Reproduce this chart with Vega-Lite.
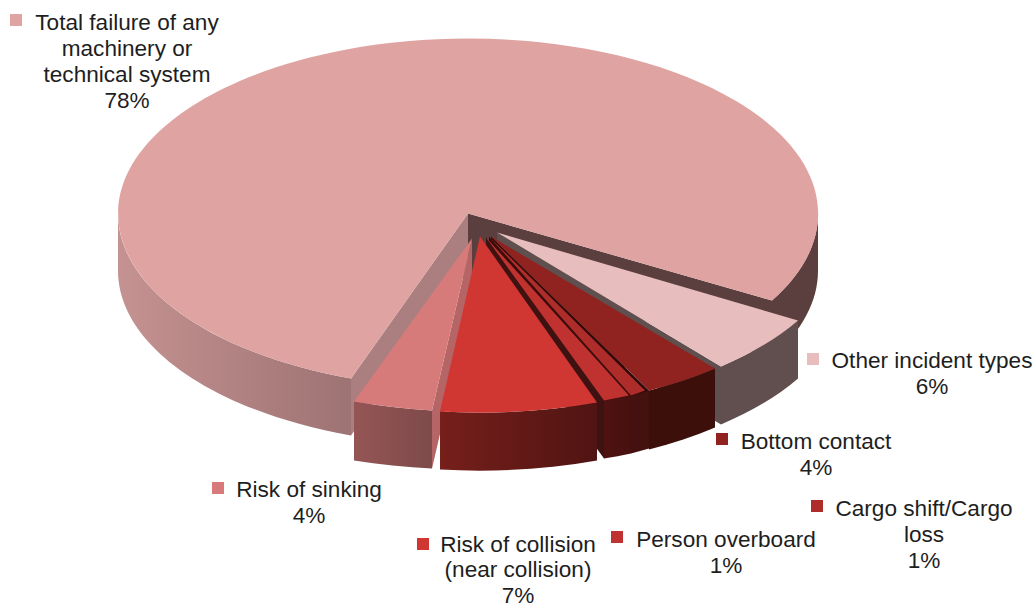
{"$schema":"https://vega.github.io/schema/vega-lite/v6.json","width":1035,"height":605,"padding":0,"autosize":{"type":"fit","contains":"padding"},"background":"white","view":{"stroke":null},
"config":{"text":{"font":"Liberation Sans"}},
"data":{"values":[
{"name":"Total failure of any machinery or technical system","share":78,"label":"Total failure of any\nmachinery or\ntechnical system\n78%"},
{"name":"Other incident types","share":6,"label":"Other incident types\n6%"},
{"name":"Bottom contact","share":4,"label":"Bottom contact\n4%"},
{"name":"Cargo shift/Cargo loss","share":1,"label":"Cargo shift/Cargo\nloss\n1%"},
{"name":"Person overboard","share":1,"label":"Person overboard\n1%"},
{"name":"Risk of collision (near collision)","share":7,"label":"Risk of collision\n(near collision)\n7%"},
{"name":"Risk of sinking","share":4,"label":"Risk of sinking\n4%"}
]},
"resolve":{"scale":{"shape":"independent","fill":"independent"}},
"layer":[
{"transform":[{"filter":"datum.name === 'Total failure of any machinery or technical system'"}],"mark":{"type":"point","filled":true,"opacity":1,"strokeWidth":0,"size":4,"shape":"M-49.5,-87.5 L-166.5,77.5 L-166.5,134.5 L-49.5,-30.5 Z","fill":"#ab7f7f"}},
{"transform":[{"filter":"datum.name === 'Total failure of any machinery or technical system'"}],"mark":{"type":"point","filled":true,"opacity":1,"strokeWidth":0,"size":4,"shape":"M-49.5,-87.5 L254.5,-0.5 L254.5,56.5 L-49.5,-30.5 Z","fill":"#5b3f3e"}},
{"transform":[{"filter":"datum.name === 'Total failure of any machinery or technical system'"}],"mark":{"type":"point","filled":true,"opacity":1,"strokeWidth":0,"size":4,"shape":"M254.5,-0.5 A350 175 0 0 0 300.5,-87.5 L300.5,-30.5 A350 175 0 0 1 254.5,56.5 Z","fill":"#5b3f3e"}},
{"transform":[{"filter":"datum.name === 'Total failure of any machinery or technical system'"}],"mark":{"type":"point","filled":true,"opacity":1,"strokeWidth":0,"size":4,"shape":"M-399.5,-87.5 A350 175 0 0 0 -166.5,77.5 L-166.5,134.5 A350 175 0 0 1 -399.5,-30.5 Z","fill":{"gradient":"linear","x1":0,"x2":1,"y1":0,"y2":0,"stops":[{"offset":0,"color":"#c49291"},{"offset":1,"color":"#9e7373"}]}}},
{"mark":{"type":"point","filled":true,"opacity":1,"strokeWidth":0},
"transform":[{"filter":"indexof(['Other incident types','Bottom contact','Cargo shift/Cargo loss','Person overboard','Risk of sinking'], datum.name) >= 0"}],
"encoding":{"size":{"value":4},
"shape":{"field":"name","type":"nominal","legend":null,"scale":{"domain":["Other incident types","Bottom contact","Cargo shift/Cargo loss","Person overboard","Risk of sinking"],"range":[
"M-20.5,-68.5 L203.5,65.5 L203.5,123.5 L-20.5,-10.5 Z",
"M-26.5,-64.5 L131.5,89.5 L131.5,147.5 L-26.5,-6.5 Z",
"M-28.5,-64.5 L113.5,94.5 L113.5,152.5 L-28.5,-6.5 Z",
"M-31.5,-63.5 L86.5,99.5 L86.5,157.5 L-31.5,-5.5 Z",
"M-45.5,-62.5 L-85.5,109.5 L-85.5,167.5 L-45.5,-4.5 Z"]}},
"fill":{"field":"name","type":"nominal","legend":null,"scale":{"domain":["Other incident types","Bottom contact","Cargo shift/Cargo loss","Person overboard","Risk of sinking"],"range":["#5f4f4f","#2f0a08","#3a0d0c","#3f1212","#b56565"]}}}},
{"mark":{"type":"point","filled":true,"opacity":1,"strokeWidth":0},
"transform":[{"filter":"indexof(['Other incident types','Bottom contact','Cargo shift/Cargo loss'], datum.name) >= 0"}],
"encoding":{"size":{"value":4},
"shape":{"field":"name","type":"nominal","legend":null,"scale":{"domain":["Other incident types","Bottom contact","Cargo shift/Cargo loss"],"range":[
"M203.5,65.5 A350 175 0 0 0 280.5,19.5 L280.5,77.5 A350 175 0 0 1 203.5,123.5 Z",
"M131.5,89.5 A350 175 0 0 0 197.5,67.5 L197.5,126.5 A350 175 0 0 1 131.5,148.5 Z",
"M113.5,94.5 A350 175 0 0 0 131.5,89.5 L131.5,147.5 A350 175 0 0 1 113.5,152.5 Z"]}},
"fill":{"field":"name","type":"nominal","legend":null,"scale":{"domain":["Other incident types","Bottom contact","Cargo shift/Cargo loss"],"range":["#614f4f","#3d0f0a","#451110"]}}}},
{"transform":[{"filter":"datum.name === 'Person overboard'"}],"mark":{"type":"point","filled":true,"opacity":1,"strokeWidth":0,"size":4,"shape":"M86.5,99.5 A350 175 0 0 0 113.5,94.5 L113.5,152.5 A350 175 0 0 1 86.5,157.5 Z","fill":{"gradient":"linear","x1":0,"x2":1,"y1":0,"y2":0,"stops":[{"offset":0,"color":"#4f1210"},{"offset":1,"color":"#471110"}]}}},
{"transform":[{"filter":"datum.name === 'Risk of collision (near collision)'"}],"mark":{"type":"point","filled":true,"opacity":1,"strokeWidth":0,"size":4,"shape":"M-77.5,110.5 A350 175 0 0 0 79.5,101.5 L79.5,159.5 A350 175 0 0 1 -77.5,168.5 Z","fill":{"gradient":"linear","x1":0,"x2":1,"y1":0,"y2":0,"stops":[{"offset":0,"color":"#761f1b"},{"offset":1,"color":"#501412"}]}}},
{"transform":[{"filter":"datum.name === 'Risk of sinking'"}],"mark":{"type":"point","filled":true,"opacity":1,"strokeWidth":0,"size":4,"shape":"M-163.5,100.5 A350 175 0 0 0 -85.5,109.5 L-85.5,167.5 A350 175 0 0 1 -163.5,159.5 Z","fill":{"gradient":"linear","x1":0,"x2":1,"y1":0,"y2":0,"stops":[{"offset":0,"color":"#955555"},{"offset":1,"color":"#7e4a4a"}]}}},
{"mark":{"type":"point","filled":true,"opacity":1,"strokeWidth":0},
"encoding":{"size":{"value":4},
"shape":{"field":"name","type":"nominal","legend":null,"scale":{"domain":["Total failure of any machinery or technical system","Other incident types","Bottom contact","Cargo shift/Cargo loss","Person overboard","Risk of collision (near collision)","Risk of sinking"],"range":[
"M-49.5,-87.5 L254.5,-0.5 A350 175 0 1 0 -166.5,77.5 Z",
"M-20.5,-68.5 L203.5,65.5 A350 175 0 0 0 280.5,19.5 Z",
"M-26.5,-64.5 L131.5,89.5 A350 175 0 0 0 197.5,67.5 Z",
"M-28.5,-64.5 L113.5,94.5 A350 175 0 0 0 127.5,89.5 Z",
"M-31.5,-63.5 L86.5,99.5 A350 175 0 0 0 111.5,94.5 Z",
"M-37.5,-64.5 L-77.5,110.5 A350 175 0 0 0 79.5,101.5 Z",
"M-45.5,-62.5 L-163.5,100.5 A350 175 0 0 0 -85.5,109.5 Z"]}},
"fill":{"field":"name","type":"nominal","legend":null,"scale":{"domain":["Total failure of any machinery or technical system","Other incident types","Bottom contact","Cargo shift/Cargo loss","Person overboard","Risk of collision (near collision)","Risk of sinking"],"range":["#dfa3a2","#e8bdbd","#90231f","#ae2c29","#c03230","#d03632","#d67b79"]}}}},
{"transform":[{"filter":"datum.name === 'Total failure of any machinery or technical system'"}],
"encoding":{"x":{"datum":16,"type":"quantitative","axis":null,"scale":{"domain":[0,1035],"range":[0,1035]}},"y":{"datum":20,"type":"quantitative","axis":null,"scale":{"domain":[0,605],"range":[0,605]}}},
"layer":[{"mark":{"type":"point","shape":"square","size":144,"filled":true,"opacity":1,"strokeWidth":0,"color":"#dfa3a2"}},
{"mark":{"type":"text","fontSize":22.6,"font":"Liberation Sans","color":"#1e1e1e","lineBreak":"\n","lineHeight":25.8,"baseline":"top","align":"center","dx":111,"dy":-7.8},"encoding":{"text":{"field":"label"}}}]},
{"transform":[{"filter":"datum.name === 'Other incident types'"}],
"encoding":{"x":{"datum":813,"type":"quantitative","axis":null,"scale":{"domain":[0,1035],"range":[0,1035]}},"y":{"datum":359,"type":"quantitative","axis":null,"scale":{"domain":[0,605],"range":[0,605]}}},
"layer":[{"mark":{"type":"point","shape":"square","size":144,"filled":true,"opacity":1,"strokeWidth":0,"color":"#e8bdbd"}},
{"mark":{"type":"text","fontSize":22.6,"font":"Liberation Sans","color":"#1e1e1e","lineBreak":"\n","lineHeight":25.8,"baseline":"top","align":"center","dx":119,"dy":-8.8},"encoding":{"text":{"field":"label"}}}]},
{"transform":[{"filter":"datum.name === 'Bottom contact'"}],
"encoding":{"x":{"datum":722,"type":"quantitative","axis":null,"scale":{"domain":[0,1035],"range":[0,1035]}},"y":{"datum":439,"type":"quantitative","axis":null,"scale":{"domain":[0,605],"range":[0,605]}}},
"layer":[{"mark":{"type":"point","shape":"square","size":144,"filled":true,"opacity":1,"strokeWidth":0,"color":"#90231f"}},
{"mark":{"type":"text","fontSize":22.6,"font":"Liberation Sans","color":"#1e1e1e","lineBreak":"\n","lineHeight":25.8,"baseline":"top","align":"center","dx":94,"dy":-7.8},"encoding":{"text":{"field":"label"}}}]},
{"transform":[{"filter":"datum.name === 'Cargo shift/Cargo loss'"}],
"encoding":{"x":{"datum":817,"type":"quantitative","axis":null,"scale":{"domain":[0,1035],"range":[0,1035]}},"y":{"datum":506,"type":"quantitative","axis":null,"scale":{"domain":[0,605],"range":[0,605]}}},
"layer":[{"mark":{"type":"point","shape":"square","size":144,"filled":true,"opacity":1,"strokeWidth":0,"color":"#ae2c29"}},
{"mark":{"type":"text","fontSize":22.6,"font":"Liberation Sans","color":"#1e1e1e","lineBreak":"\n","lineHeight":25.8,"baseline":"top","align":"center","dx":107,"dy":-7.8},"encoding":{"text":{"field":"label"}}}]},
{"transform":[{"filter":"datum.name === 'Person overboard'"}],
"encoding":{"x":{"datum":617,"type":"quantitative","axis":null,"scale":{"domain":[0,1035],"range":[0,1035]}},"y":{"datum":537,"type":"quantitative","axis":null,"scale":{"domain":[0,605],"range":[0,605]}}},
"layer":[{"mark":{"type":"point","shape":"square","size":144,"filled":true,"opacity":1,"strokeWidth":0,"color":"#c03230"}},
{"mark":{"type":"text","fontSize":22.6,"font":"Liberation Sans","color":"#1e1e1e","lineBreak":"\n","lineHeight":25.8,"baseline":"top","align":"center","dx":109,"dy":-7.8},"encoding":{"text":{"field":"label"}}}]},
{"transform":[{"filter":"datum.name === 'Risk of collision (near collision)'"}],
"encoding":{"x":{"datum":423,"type":"quantitative","axis":null,"scale":{"domain":[0,1035],"range":[0,1035]}},"y":{"datum":544,"type":"quantitative","axis":null,"scale":{"domain":[0,605],"range":[0,605]}}},
"layer":[{"mark":{"type":"point","shape":"square","size":144,"filled":true,"opacity":1,"strokeWidth":0,"color":"#d03632"}},
{"mark":{"type":"text","fontSize":22.6,"font":"Liberation Sans","color":"#1e1e1e","lineBreak":"\n","lineHeight":25.4,"baseline":"top","align":"center","dx":95,"dy":-10.2},"encoding":{"text":{"field":"label"}}}]},
{"transform":[{"filter":"datum.name === 'Risk of sinking'"}],
"encoding":{"x":{"datum":218,"type":"quantitative","axis":null,"scale":{"domain":[0,1035],"range":[0,1035]}},"y":{"datum":488,"type":"quantitative","axis":null,"scale":{"domain":[0,605],"range":[0,605]}}},
"layer":[{"mark":{"type":"point","shape":"square","size":144,"filled":true,"opacity":1,"strokeWidth":0,"color":"#d67b79"}},
{"mark":{"type":"text","fontSize":22.6,"font":"Liberation Sans","color":"#1e1e1e","lineBreak":"\n","lineHeight":25.8,"baseline":"top","align":"center","dx":91,"dy":-8.8},"encoding":{"text":{"field":"label"}}}]}
]}
